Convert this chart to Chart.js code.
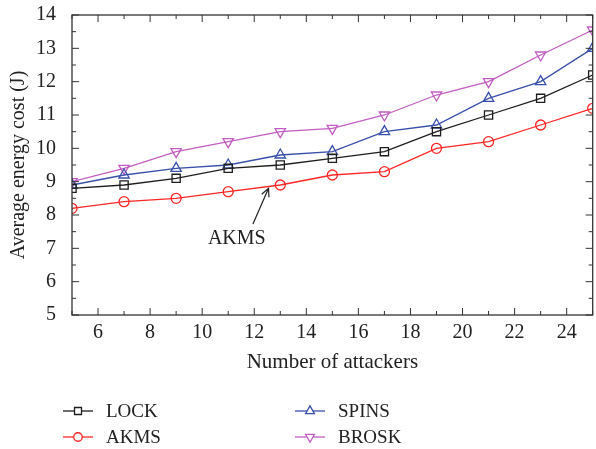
<!DOCTYPE html>
<html>
<head>
<meta charset="utf-8">
<script src="https://cdn.jsdelivr.net/npm/chart.js@4.4.0/dist/chart.umd.min.js"></script>
<style>
  html, body { margin: 0; padding: 0; background: #fff; overflow: hidden; }
  #wrap { width: 600px; height: 449px; }
</style>
</head>
<body>
<div id="wrap"><canvas id="energyChart"></canvas></div>
<script>
// number of attackers
const attackers = [5, 7, 9, 11, 13, 15, 17, 19, 21, 23, 25];

// average energy cost (J)
const lockCost  = [8.8, 8.9, 9.1, 9.4, 9.5, 9.7, 9.9, 10.5, 11.0, 11.5, 12.2];
const akmsCost  = [8.2, 8.4, 8.5, 8.7, 8.9, 9.2, 9.3, 10.0, 10.2, 10.7, 11.2];
const spinsCost = [8.9, 9.2, 9.4, 9.5, 9.8, 9.9, 10.5, 10.7, 11.5, 12.0, 13.0];
const broskCost = [9.0, 9.4, 9.9, 10.2, 10.5, 10.6, 11.0, 11.6, 12.0, 12.8, 13.55];

const xTicks = [6, 8, 10, 12, 14, 16, 18, 20, 22, 24];
const yTicks = [5, 6, 7, 8, 9, 10, 11, 12, 13, 14];

const FONT = "'Liberation Serif', 'DejaVu Serif', serif";

function pts(vals) {
  return vals.map((v, i) => ({ x: attackers[i], y: v }));
}

function series(label, vals, color, style, rot, radius) {
  return {
    label: label,
    data: pts(vals),
    borderColor: color,
    backgroundColor: "rgba(0,0,0,0)",
    pointBorderColor: color,
    pointBackgroundColor: "rgba(0,0,0,0)",
    borderWidth: 1.3,
    pointBorderWidth: 1.3,
    pointStyle: style,
    pointRotation: rot,
    pointRadius: radius,
    tension: 0
  };
}

// inward ticks on all four sides + box frame
const frameTicks = {
  id: "frameTicks",
  afterDraw(chart) {
    const { ctx, chartArea: a, scales } = chart;
    ctx.save();
    ctx.strokeStyle = "#333";
    ctx.lineWidth = 1.3;
    ctx.strokeRect(a.left, a.top, a.right - a.left, a.bottom - a.top);
    ctx.lineWidth = 1;
    for (let v = 5; v <= 25; v++) {
      const px = scales.x.getPixelForValue(v);
      const len = v % 2 === 0 ? 7 : 4;
      ctx.beginPath();
      ctx.moveTo(px, a.bottom); ctx.lineTo(px, a.bottom - len);
      ctx.moveTo(px, a.top); ctx.lineTo(px, a.top + len);
      ctx.stroke();
    }
    for (let v = 5; v <= 14; v += 0.5) {
      const py = scales.y.getPixelForValue(v);
      const len = Number.isInteger(v) ? 7 : 4;
      ctx.beginPath();
      ctx.moveTo(a.left, py); ctx.lineTo(a.left + len, py);
      ctx.moveTo(a.right, py); ctx.lineTo(a.right - len, py);
      ctx.stroke();
    }
    ctx.restore();
  }
};

// "AKMS" label with arrow, placed in data coordinates
const akmsNote = {
  id: "akmsNote",
  afterDraw(chart) {
    const { ctx, scales } = chart;
    const x = scales.x, y = scales.y;
    const hx = x.getPixelForValue(12.55), hy = y.getPixelForValue(8.8);
    const tx = x.getPixelForValue(11.95), ty = y.getPixelForValue(7.73);
    ctx.save();
    ctx.strokeStyle = "#222";
    ctx.lineWidth = 1.2;
    ctx.beginPath();
    ctx.moveTo(tx, ty); ctx.lineTo(hx, hy);
    const ang = Math.atan2(hy - ty, hx - tx);
    const L = 9, w = 0.45;
    ctx.moveTo(hx - L * Math.cos(ang - w), hy - L * Math.sin(ang - w));
    ctx.lineTo(hx, hy);
    ctx.lineTo(hx - L * Math.cos(ang + w), hy - L * Math.sin(ang + w));
    ctx.stroke();
    ctx.fillStyle = "#222";
    ctx.font = "20px " + FONT;
    ctx.textAlign = "center";
    ctx.textBaseline = "middle";
    ctx.fillText("AKMS", x.getPixelForValue(11.33), y.getPixelForValue(7.28));
    ctx.restore();
  }
};

// two-column legend below the chart
const sideLegend = {
  id: "sideLegend",
  afterDraw(chart) {
    const { ctx } = chart;
    const slots = [
      { col: 63, row: 411 }, { col: 63, row: 437 },
      { col: 295, row: 411 }, { col: 295, row: 437 }
    ];
    ctx.save();
    chart.data.datasets.forEach((ds, i) => {
      const s = slots[i];
      ctx.strokeStyle = ds.borderColor;
      ctx.lineWidth = 1.3;
      ctx.beginPath();
      ctx.moveTo(s.col, s.row); ctx.lineTo(s.col + 30, s.row);
      ctx.stroke();
      ctx.fillStyle = "#fff";
      Chart.helpers.drawPoint(ctx, {
        pointStyle: ds.pointStyle,
        rotation: ds.pointRotation,
        radius: ds.pointRadius * 0.85,
        borderWidth: 1.3
      }, s.col + 15, s.row);
      ctx.fillStyle = "#222";
      ctx.font = "19px " + FONT;
      ctx.textAlign = "left";
      ctx.textBaseline = "middle";
      ctx.fillText(ds.label, s.col + 43, s.row + 1);
    });
    ctx.restore();
  }
};

const canvas = document.getElementById("energyChart");
new Chart(canvas.getContext("2d"), {
  type: "line",
  data: {
    datasets: [
      series("LOCK", lockCost, "#1e1e1e", "rect", 0, 5.8),
      series("AKMS", akmsCost, "#ff2626", "circle", 0, 5),
      series("SPINS", spinsCost, "#3a50ad", "triangle", 0, 6),
      series("BROSK", broskCost, "#c25ec2", "triangle", 180, 6)
    ]
  },
  plugins: [frameTicks, akmsNote, sideLegend],
  options: {
    responsive: true,
    maintainAspectRatio: false,
    animation: false,
    layout: { padding: { top: 15, right: 0, bottom: 74, left: 0 } },
    plugins: {
      legend: { display: false },
      tooltip: { enabled: false }
    },
    scales: {
      x: {
        type: "linear",
        min: 5,
        max: 25,
        afterBuildTicks(axis) { axis.ticks = xTicks.map(v => ({ value: v })); },
        afterFit(axis) { axis.height = 60; axis.paddingLeft = 0; axis.paddingRight = 0; },
        grid: { display: false },
        border: { display: false },
        ticks: { color: "#222", font: { family: FONT, size: 20 }, padding: -2, maxRotation: 0 },
        title: {
          display: true,
          text: "Number of attackers",
          color: "#222",
          font: { family: FONT, size: 21 },
          padding: { top: 1, bottom: 0 }
        }
      },
      y: {
        min: 5,
        max: 14,
        afterBuildTicks(axis) { axis.ticks = yTicks.map(v => ({ value: v })); },
        afterFit(axis) { axis.width = 72; axis.paddingTop = 0; axis.paddingBottom = 0; },
        grid: { display: false },
        border: { display: false },
        ticks: { color: "#222", font: { family: FONT, size: 20 }, padding: 8 },
        title: {
          display: true,
          text: "Average energy cost (J)",
          color: "#222",
          font: { family: FONT, size: 20 },
          padding: { top: 7, bottom: 0 }
        }
      }
    }
  }
});
</script>
</body>
</html>
